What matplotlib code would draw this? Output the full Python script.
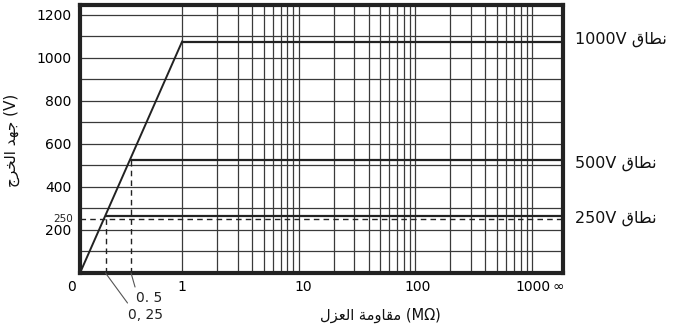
import numpy as np
import matplotlib
matplotlib.use("Agg")
import matplotlib.pyplot as plt
import matplotlib.transforms as mtransforms

# measuring ranges (V) and the voltage each range actually settles at
range_names = ["1000V", "500V", "250V"]
range_nominal = [1000, 500, 250]
range_plateau = [1075, 525, 265]
ramp_slope = 1075  # V per MOhm on the linear part

# marked resistances on the ramp
marked_r = [0.25, 0.5]
marked_r_text = ["0, 25", "0. 5"]
marked_v = [265, 525]

# axis layout
x_max = 1850.0
y_max = 1245
y_major = [200, 400, 600, 800, 1000, 1200]
y_minor = [100, 300, 500, 700, 900, 1100]
x_major = [0, 1, 10, 100, 1000, x_max]
x_major_text = ["0", "1", "10", "100", "1000", "\u221e"]
x_minor = [m * d for d in (1, 10, 100) for m in range(2, 10)]

# shaped Arabic text, laid out in visual (left to right) order
nataq = "\uFED5\uFE8E\uFEC4\uFEE7"                        # نطاق
al_azl = "\uFEDD\uFEB0\uFECC\uFEDF\uFE8D"                 # العزل
muqawama = "\uFE94\uFEE3\uFEED\uFE8E\uFED8\uFEE3"         # مقاومة
xlabel = al_azl + " " + muqawama + " (M\u03a9)"
ylabel = "\uFE9D\uFEAE\uFEA8\uFEDF\uFE8D \uFEAA\uFEEC\uFE9F (V)"   # جهد الخرج (V)

K = 116.5 / 102.0  # width of one decade relative to the 0..1 linear span


def fwd(x):
    x = np.asarray(x, dtype=float)
    with np.errstate(all="ignore"):
        return np.where(x <= 1, x, 1 + K * np.log10(np.maximum(x, 1)))


def inv(u):
    u = np.asarray(u, dtype=float)
    with np.errstate(all="ignore"):
        return np.where(u <= 1, u, 10 ** ((np.minimum(u, 50) - 1) / K))


fig = plt.figure(figsize=(6.73, 3.27), dpi=100)
ax = fig.add_axes([80 / 673, 1 - 273 / 327, (563 - 80) / 673, (273 - 5) / 327])
ax.set_xscale("function", functions=(fwd, inv))
ax.set_xlim(0, x_max)
ax.set_ylim(0, y_max)

ink = "#222222"
grid_c = "#3a3a3a"

# grid
ax.set_xticks(x_major)
ax.set_xticklabels(x_major_text)
ax.set_xticks(x_minor, minor=True)
ax.set_yticks(y_major)
ax.set_yticks(y_minor, minor=True)
ax.grid(which="both", color=grid_c, lw=0.9)
ax.set_axisbelow(True)

# the linear 0..1 part carries no vertical grid
for gl, xv in zip(ax.get_xgridlines(), x_major):
    if xv == 0:
        gl.set_visible(False)

ax.tick_params(which="both", length=0)
ax.tick_params(axis="x", pad=5, labelsize=10)
ax.tick_params(axis="y", pad=6, labelsize=10)

# nudge x tick labels
shifts = {0: -8, 10: 5, 100: 2, 1000: 1, x_max: -5}
for lab, xv in zip(ax.get_xticklabels(), x_major):
    dx = shifts.get(xv, 0)
    lab.set_transform(lab.get_transform() + mtransforms.Affine2D().translate(dx, 0))

for s in ax.spines.values():
    s.set_linewidth(3.0)
    s.set_color(ink)

# ramp and range plateaus
ax.plot([0, 1], [0, ramp_slope], color=ink, lw=1.4, zorder=3)
for v in range_plateau:
    ax.plot([v / ramp_slope, x_max], [v, v], color=ink, lw=1.6, zorder=3,
            solid_capstyle="butt")

# dashed guides
ax.plot([0, x_max], [range_nominal[2], range_nominal[2]], color=ink, lw=1.0,
        ls=(0, (4, 3)), zorder=3)
for r, v in zip(marked_r, marked_v):
    ax.plot([r, r], [0, v], color=ink, lw=1.0, ls=(0, (4, 3)), zorder=3)

# small 250 label on the y axis
ax.annotate("250", xy=(0, range_nominal[2]), xytext=(-7, 0), textcoords="offset pixels",
            ha="right", va="center", fontsize=7.5, color=ink)

# leader lines to the marked resistances
lead_end = [(22, -30), (4, -14)]
text_pos = [(40, -42), (18, -25)]
for r, txt, le, tp in zip(marked_r, marked_r_text, lead_end, text_pos):
    ax.annotate("", xy=(r, 0), xytext=le, textcoords="offset pixels",
                arrowprops=dict(arrowstyle="-", color="#555555", lw=0.8,
                                shrinkA=0, shrinkB=0), annotation_clip=False)
    ax.annotate(txt, xy=(r, 0), xytext=tp, textcoords="offset pixels",
                ha="center", va="center", fontsize=10, color=ink,
                annotation_clip=False)

# range labels on the right
label_y = [1085, 510, 255]
for name, y in zip(range_names, label_y):
    ax.annotate(name + " " + nataq, xy=(1, y), xycoords=("axes fraction", "data"),
                xytext=(12, 0), textcoords="offset pixels", ha="left", va="center",
                fontsize=11.5, color="#111111", annotation_clip=False)

fig.text(380 / 673, 1 - 315 / 327, xlabel, ha="center", va="center",
         fontsize=10.5, color="#111111")
fig.text(12 / 673, 1 - 140 / 327, ylabel, ha="center", va="center",
         rotation=90, fontsize=11, color="#111111")

fig.savefig("out.png", dpi=100)
